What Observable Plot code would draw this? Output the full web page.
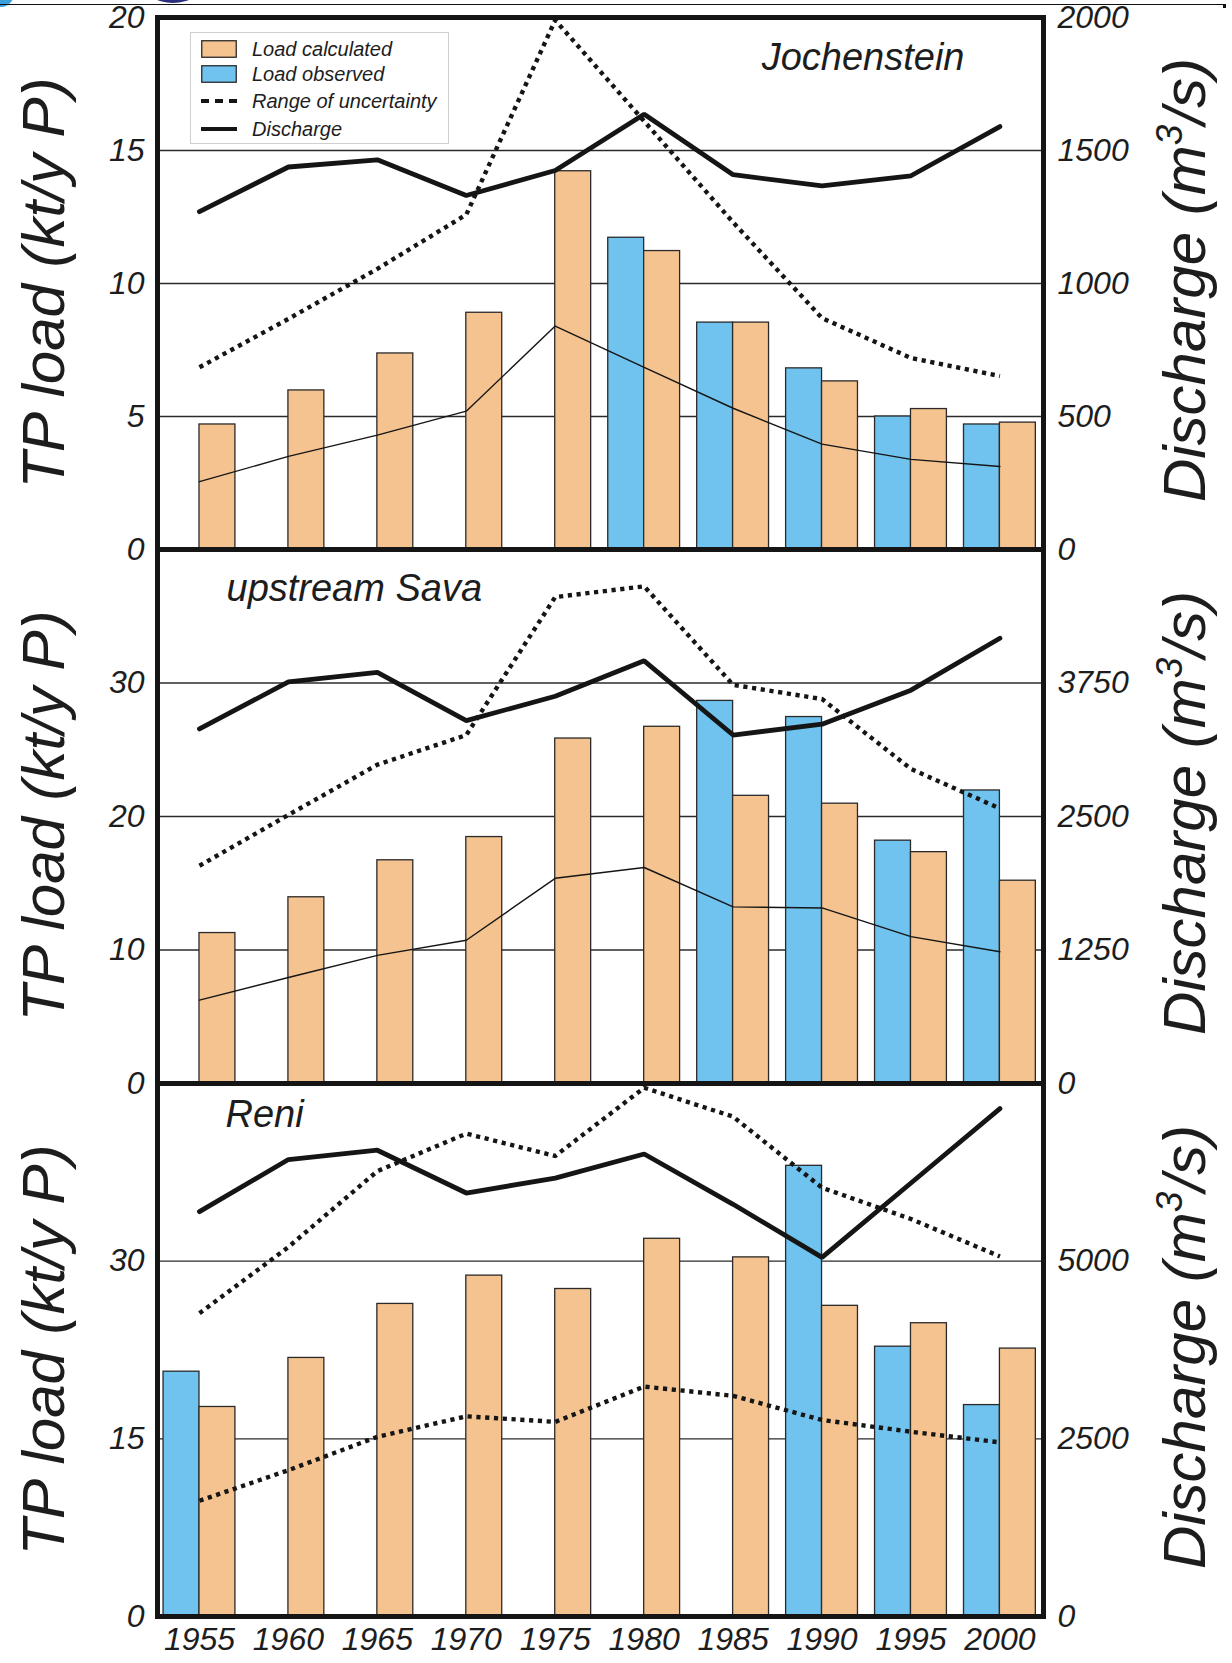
<!DOCTYPE html>
<html>
<head>
<meta charset="utf-8">
<script src="https://cdn.jsdelivr.net/npm/d3@7"></script>
<script src="https://cdn.jsdelivr.net/npm/@observablehq/plot@0.6"></script>
<style>
  html, body { margin: 0; padding: 0; background: #fff; }
  body { font-family: "Liberation Sans", Arial, Helvetica, sans-serif; color: #1d1d1d; }
  #page { position: relative; width: 1232px; height: 1663px; overflow: hidden; background: #fff; }
  .panel { position: absolute; left: 0; }
  .panel svg { overflow: visible; background: transparent; }
  .ytitle { position: absolute; white-space: nowrap; font-style: italic; font-size: 60px; line-height: 1;
            transform: translate(-50%, -50%) rotate(-90deg); color: #1d1d1d; z-index: 3; }
  .ytitle .sup { font-size: 0.62em; position: relative; top: -0.62em; }
  #legend { position: absolute; left: 190px; top: 32px; width: 259px; height: 112px; background: #fff;
            border: 1.5px solid #cfcfcf; box-sizing: border-box; z-index: 4; }
  .lrow { position: absolute; left: 0; height: 26px; display: flex; align-items: center; }
  .lrow svg { margin-left: 10px; }
  .lrow span { margin-left: 15px; font-style: italic; font-size: 20px; color: #1d1d1d; }
  #topline { position: absolute; left: 0; top: 4px; width: 1223px; border-top: 1.6px solid #111; z-index: 5; }
  #topline::after { content: ""; position: absolute; right: -3px; top: -1px; width: 3px; height: 4px; background: #111; }
  #logo { position: absolute; left: 142px; top: -40px; width: 62px; height: 43px; border-radius: 50%; background: #2c2e7e; z-index: 1; }
  #logo2 { position: absolute; left: -12px; top: -20px; width: 26px; height: 27px; border-radius: 50%; background: #3aa0dc; z-index: 1; }
</style>
</head>
<body>
<div id="page">
  <div id="logo"></div><div id="logo2"></div>
  <div id="topline"></div>
</div>
<script>
// ---------------- data ----------------
const years = [1955, 1960, 1965, 1970, 1975, 1980, 1985, 1990, 1995, 2000];

// Jochenstein (load kt/y P, discharge m3/s)
const jochCalc  = [4.70, 5.98, 7.37, 8.90, 14.22, 11.22, 8.53, 6.32, 5.28, 4.77];
const jochObs   = [null, null, null, null, null, 11.72, 8.53, 6.81, 5.00, 4.70];
const jochQ     = [1270, 1438, 1465, 1331, 1425, 1636, 1409, 1367, 1405, 1590];
const jochUpper = [6.85, 8.67, 10.55, 12.59, 19.9, 16.1, 12.3, 8.7, 7.2, 6.52];
const jochLower = [2.55, 3.50, 4.30, 5.20, 8.40, 6.85, 5.31, 3.96, 3.39, 3.12];

// upstream Sava
const savaCalc  = [11.27, 13.95, 16.72, 18.46, 25.84, 26.72, 21.55, 20.96, 17.33, 15.19];
const savaObs   = [null, null, null, null, null, null, 28.66, 27.45, 18.19, 21.95];
const savaQ     = [3320, 3760, 3850, 3398, 3626, 3958, 3263, 3364, 3683, 4169];
const savaUpper = [16.31, 20.12, 23.88, 26.1, 36.44, 37.24, 29.86, 28.8, 23.56, 20.6];
const savaLower = [6.25, 7.94, 9.6, 10.73, 15.37, 16.18, 13.23, 13.15, 11.0, 9.87];

// Reni
const reniCalc  = [17.69, 21.83, 26.39, 28.78, 27.65, 31.89, 30.32, 26.23, 24.76, 22.62];
const reniObs   = [20.67, null, null, null, null, null, null, 38.05, 22.78, 17.85];
const reniQ     = [5697, 6430, 6561, 5959, 6168, 6508, 5800, 5053, 6100, 7147];
const reniUpper = [25.6, 31.2, 37.6, 40.77, 38.88, 44.64, 42.2, 36.2, 33.56, 30.4];
const reniLower = [9.77, 12.35, 15.17, 16.9, 16.43, 19.41, 18.63, 16.59, 15.6, 14.7];

// axis settings
const loadMax  = [20, 40, 45];
const loadTicks = [[0, 5, 10, 15, 20], [0, 10, 20, 30], [0, 15, 30]];
const qMax     = [2000, 5000, 7500];
const stations = ["Jochenstein", "upstream Sava", "Reni"];
const xTicks   = [1955, 1960, 1965, 1970, 1975, 1980, 1985, 1990, 1995, 2000];
const legendLabels = ["Load calculated", "Load observed", "Range of uncertainty", "Discharge"];

// ---------------- style ----------------
const ORANGE = "#F5C38F";
const BLUE = "#6FC3EE";
const EDGE = "#2a2a2a";
const INK = "#151515";
const FONT = '"Liberation Sans", Arial, Helvetica, sans-serif';
const BARW = 2.02; // years
const TICKFONT = 32;

function panel(i, calc, obs, q, upper, lower, opts) {
  const k = loadMax[i] / qMax[i];
  const rows = years.map((year, j) => ({
    year, calc: calc[j], obs: obs[j], q: q[j] * k, upper: upper[j], lower: lower[j]
  }));
  const dotted = {stroke: INK, strokeWidth: 4.4, strokeDasharray: "4.2 4.6", strokeLinecap: "butt"};
  const marks = [
    Plot.ruleY(loadTicks[i].filter(t => t > 0), {stroke: "#2b2b2b", strokeWidth: 1.3}),
    Plot.rectY(rows.filter(d => d.obs != null), {
      x1: d => d.year - BARW, x2: "year", y1: 0, y2: "obs",
      fill: BLUE, stroke: EDGE, strokeWidth: 1.3
    }),
    Plot.rectY(rows, {
      x1: "year", x2: d => d.year + BARW, y1: 0, y2: "calc",
      fill: ORANGE, stroke: EDGE, strokeWidth: 1.3
    }),
    Plot.lineY(rows, {x: "year", y: "upper", ...dotted}),
    opts.lowerDotted
      ? Plot.lineY(rows, {x: "year", y: "lower", ...dotted})
      : Plot.lineY(rows, {x: "year", y: "lower", stroke: INK, strokeWidth: 1.4}),
    Plot.lineY(rows, {x: "year", y: "q", stroke: INK, strokeWidth: 4.8, strokeLinejoin: "miter"}),
    Plot.axisY({anchor: "left", ticks: loadTicks[i], tickSize: 0, tickPadding: 13, label: null,
      fontSize: TICKFONT, fontStyle: "italic", fill: "#1d1d1d"}),
    Plot.axisY({anchor: "right", ticks: loadTicks[i], tickSize: 0, tickPadding: 14, label: null,
      tickFormat: d => String(Math.round(d / k)), fontSize: TICKFONT, fontStyle: "italic", fill: "#1d1d1d"}),
    Plot.text([stations[i]], {
      text: d => d, frameAnchor: opts.nameAnchor, dx: opts.nameDx, dy: opts.nameDy,
      lineAnchor: "middle", fontSize: 38, fontStyle: "italic", fill: "#1d1d1d"
    }),
    Plot.frame({stroke: INK, strokeWidth: 5})
  ];
  if (opts.xAxis) {
    marks.push(Plot.axisX({ticks: xTicks, tickSize: 0, tickPadding: 11, label: null,
      tickFormat: d => String(d), fontSize: TICKFONT, fontStyle: "italic", fill: "#1d1d1d"}));
  }
  return Plot.plot({
    width: 1232,
    height: opts.height,
    marginLeft: 157,
    marginRight: 189,
    marginTop: opts.marginTop,
    marginBottom: opts.marginBottom,
    x: {type: "linear", domain: [1952.64, 2002.45], ...(opts.xAxis ? {} : {axis: null})},
    y: {domain: [0, loadMax[i]]},
    style: {fontFamily: FONT, fontSize: TICKFONT + "px", fontStyle: "italic", color: "#1d1d1d",
            overflow: "visible", background: "transparent"},
    marks
  });
}

const page = document.getElementById("page");
const layout = [
  {top: 0, height: 549, marginTop: 17, marginBottom: 0, nameAnchor: "top-right", nameDx: -79, nameDy: 40, xAxis: false, lowerDotted: false},
  {top: 549, height: 534, marginTop: 0, marginBottom: 0, nameAnchor: "top-left", nameDx: 69, nameDy: 39, xAxis: false, lowerDotted: false},
  {top: 1083, height: 580, marginTop: 0, marginBottom: 47, nameAnchor: "top-left", nameDx: 68, nameDy: 31, xAxis: true, lowerDotted: true}
];
const series = [
  [jochCalc, jochObs, jochQ, jochUpper, jochLower],
  [savaCalc, savaObs, savaQ, savaUpper, savaLower],
  [reniCalc, reniObs, reniQ, reniUpper, reniLower]
];
layout.forEach((L, i) => {
  const wrap = document.createElement("div");
  wrap.className = "panel";
  wrap.style.top = L.top + "px";
  wrap.style.zIndex = 2 + (2 - i);
  wrap.appendChild(panel(i, ...series[i], L));
  page.appendChild(wrap);
});

// axis titles (HTML, rotated)
const panelCenters = [283, 816, 1350];
panelCenters.forEach(cy => {
  const l = document.createElement("div");
  l.className = "ytitle";
  l.style.left = "44px"; l.style.top = cy + "px";
  l.textContent = "TP load (kt/y P)";
  page.appendChild(l);
  const r = document.createElement("div");
  r.className = "ytitle";
  r.style.left = "1185px"; r.style.top = (cy - 3) + "px";
  r.innerHTML = 'Discharge (m<span class="sup">3</span>/s)';
  page.appendChild(r);
});

// legend
const legend = document.createElement("div");
legend.id = "legend";
const swatches = [
  `<svg width="36" height="18"><rect x="0.75" y="0.75" width="34.5" height="16.5" fill="${ORANGE}" stroke="${EDGE}" stroke-width="1.3"/></svg>`,
  `<svg width="36" height="18"><rect x="0.75" y="0.75" width="34.5" height="16.5" fill="${BLUE}" stroke="${EDGE}" stroke-width="1.3"/></svg>`,
  `<svg width="36" height="18"><line x1="0" x2="36" y1="9" y2="9" stroke="${INK}" stroke-width="4" stroke-dasharray="8 6"/></svg>`,
  `<svg width="36" height="18"><line x1="0" x2="36" y1="9" y2="9" stroke="${INK}" stroke-width="4"/></svg>`
];
const rowCenters = [16, 41, 68, 96];
legendLabels.forEach((lab, j) => {
  const row = document.createElement("div");
  row.className = "lrow";
  row.style.top = (rowCenters[j] - 13) + "px";
  row.innerHTML = swatches[j] + `<span>${lab}</span>`;
  legend.appendChild(row);
});
page.appendChild(legend);
</script>
</body>
</html>
